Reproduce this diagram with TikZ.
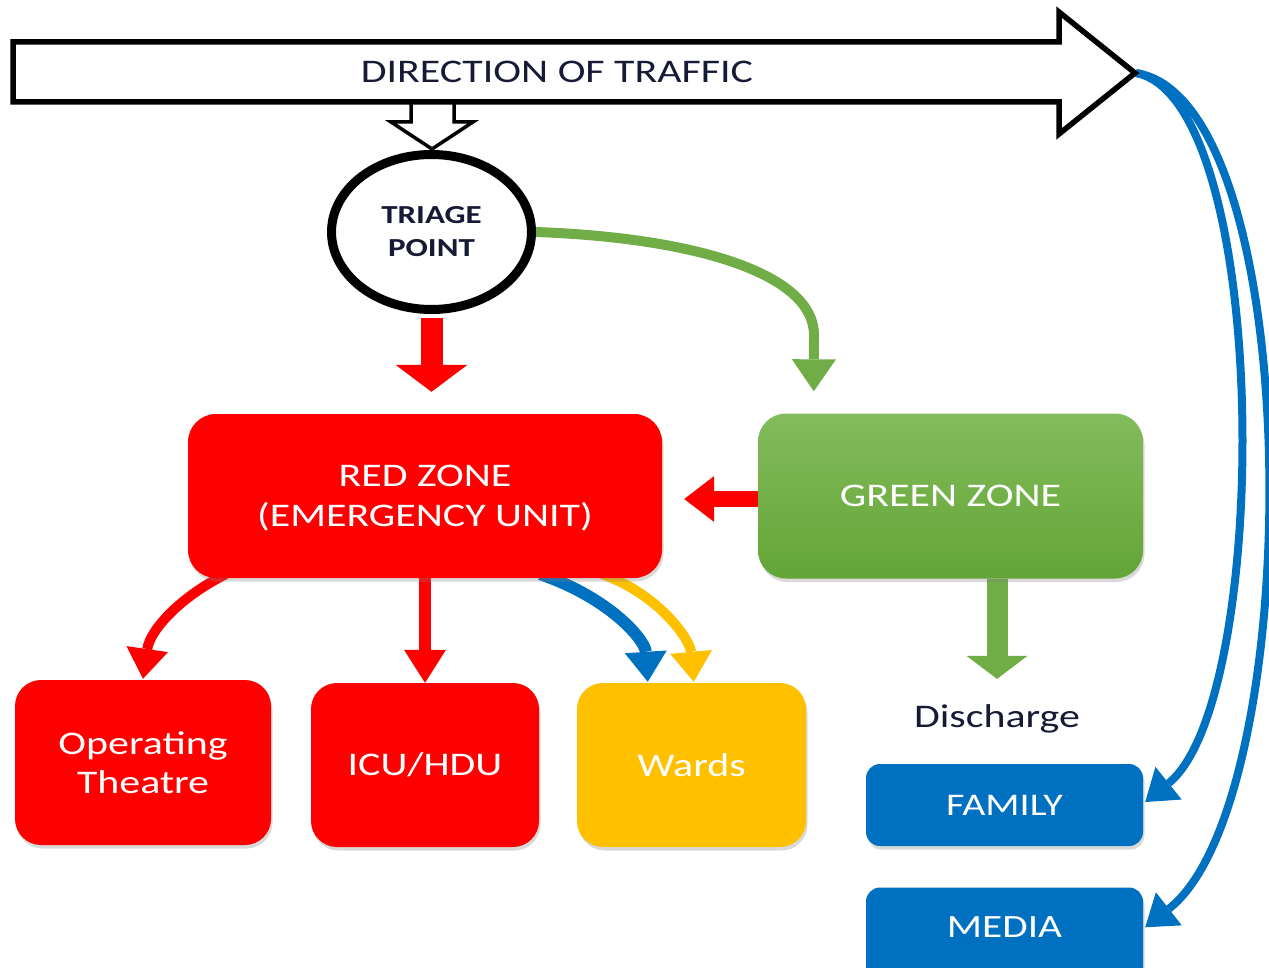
\documentclass[tikz,border=0pt]{standalone}
\usepackage{fontspec}
\setmainfont{Carlito}[FakeStretch=1.27]
\usetikzlibrary{arrows.meta,shapes.geometric,shadows,calc,backgrounds}
\definecolor{cred}{RGB}{255,0,0}
\definecolor{cgreen}{RGB}{112,173,71}
\definecolor{cgreenT}{RGB}{131,188,92}
\definecolor{cgreenB}{RGB}{99,165,54}
\definecolor{cblue}{RGB}{0,112,192}
\definecolor{cyellow}{RGB}{255,192,0}
\definecolor{cnavy}{RGB}{22,26,52}
\tikzset{
  box/.style={rectangle, rounded corners=28pt, inner sep=0pt, align=center,
    text=white, font=\fontsize{33}{40}\selectfont,
    drop shadow={shadow xshift=1.5pt,shadow yshift=-3.5pt,opacity=.3}},
}
\begin{document}
\begin{tikzpicture}[x=1pt,y=-1pt]
\useasboundingbox (0,0) rectangle (1269,968);
\clip (0,0) rectangle (1269,968);

% hollow down arrow and big direction arrow
\draw[line width=3.5pt, fill=white, line join=miter]
  (411,102) -- (411,122) -- (391,122) -- (432,149) -- (473,122) -- (454,122) -- (454,102);
\draw[line width=5.5pt, fill=white, line join=miter]
  (13,42) -- (1059,42) -- (1059,12) -- (1135,73) -- (1059,134) -- (1059,102) -- (13,102) -- cycle;
\coordinate (dirtip) at (1136,73);
\node[font=\fontsize{33}{40}\selectfont, text=cnavy] (dir) at (557,72) {DIRECTION OF TRAFFIC};

% triage
\node[ellipse, draw, fill=white, line width=9pt, minimum width=200pt, minimum height=155pt,
  inner sep=0pt, align=center, font=\bfseries\fontsize{26}{33}\selectfont, text=cnavy]
  (triage) at (431.5,232) {TRIAGE\\POINT};

% boxes
\node[box, fill=cred, minimum width=474pt, minimum height=164pt, text depth=0pt] (red) at (425,496) {RED ZONE\\(EMERGENCY UNIT)};
\node[box, top color=cgreenT, bottom color=cgreenB, minimum width=385pt, minimum height=165pt] (green) at (950.5,496) {GREEN ZONE};
\node[box, fill=cred, minimum width=256pt, minimum height=165pt, rounded corners=26pt, font=\fontsize{33}{39}\selectfont] (ot) at (143,762.5) {Operating\\Theatre};
\node[box, fill=cred, minimum width=228pt, minimum height=164pt, rounded corners=26pt] (icu) at (425,765) {ICU/HDU};
\node[box, fill=cyellow, minimum width=229pt, minimum height=164pt, rounded corners=26pt] (wards) at (691.5,765) {Wards};
\node[font=\fontsize{33}{40}\selectfont, text=cnavy, anchor=base, inner sep=0pt] (dis) at (997,727) {Discharge};
\node[box, fill=cblue, minimum width=277pt, minimum height=82pt, rounded corners=14pt, font=\fontsize{31.5}{38}\selectfont] (family) at (1004.5,805) {FAMILY};
\node[box, fill=cblue, text width=277pt, text height=49.5pt, text depth=70pt, rounded corners=14pt, font=\fontsize{32.5}{38}\selectfont, anchor=base] (media) at (1004.5,937) {MEDIA};

\begin{pgfonlayer}{background}
% triage -> red zone
\draw[cred, line width=22pt, -{Triangle[width=72pt,length=27pt,line width=0pt]}]
  ($(triage.south)+(0,4)$) -- ($(triage.south |- red.north)+(0,-22)$);
% triage -> green zone
\draw[cgreen, line width=10pt, -{Triangle[width=44pt,length=32pt,line width=0pt]}]
  (triage.east) .. controls (700,238) and (814,275) .. (814,335) -- ($(green.north west)+(56,-22)$);
% green -> red
\draw[cred, line width=16pt, -{Triangle[width=46pt,length=30pt,line width=0pt]}]
  ($(green.west)+(2,3)$) -- ($(red.east)+(22,3)$);
% red -> OT
\draw[cred, line width=10pt, -{Triangle[width=42pt,length=30pt,line width=0pt]}]
  ($(red.south west)+(38,-4)$) .. controls (180,597) and (150,630) .. ($(ot.north)+(0,-1)$);
% red -> ICU
\draw[cred, line width=12pt, -{Triangle[width=42pt,length=33pt,line width=0pt]}]
  ($(red.south)+(0,-4)$) -- (icu.north);
% red -> wards (yellow, blue)
\draw[cyellow, line width=10pt, -{Triangle[width=42pt,length=30pt,line width=0pt]}]
  ($(red.south east)+(-60,-4)$) .. controls (660,595) and (690,640) .. ($(wards.north west)+(117,-1)$);
\draw[cblue, line width=12pt, -{Triangle[width=42pt,length=30pt,line width=0pt]}]
  ($(red.south east)+(-122,-4)$) .. controls (610,598) and (645,640) .. ($(wards.north west)+(71,-1)$);
% green -> discharge
\draw[cgreen, line width=21pt, -{Triangle[width=61pt,length=23pt,line width=0pt]}]
  (green.south -| dis.north) -- ($(dis.north)+(0,-25)$);
% direction -> family, media
\draw[cblue, line width=8pt, -{Triangle[width=42pt,length=30pt,line width=0pt]}]
  (dirtip) .. controls (1272,100) and (1272,700) .. ($(family.east)+(2,-3)$);
\draw[cblue, line width=8pt, -{Triangle[width=42pt,length=30pt,line width=0pt]}]
  (dirtip) .. controls (1308,100) and (1308,800) .. ($(media.north east)+(2,40)$);
\end{pgfonlayer}
\end{tikzpicture}
\end{document}
